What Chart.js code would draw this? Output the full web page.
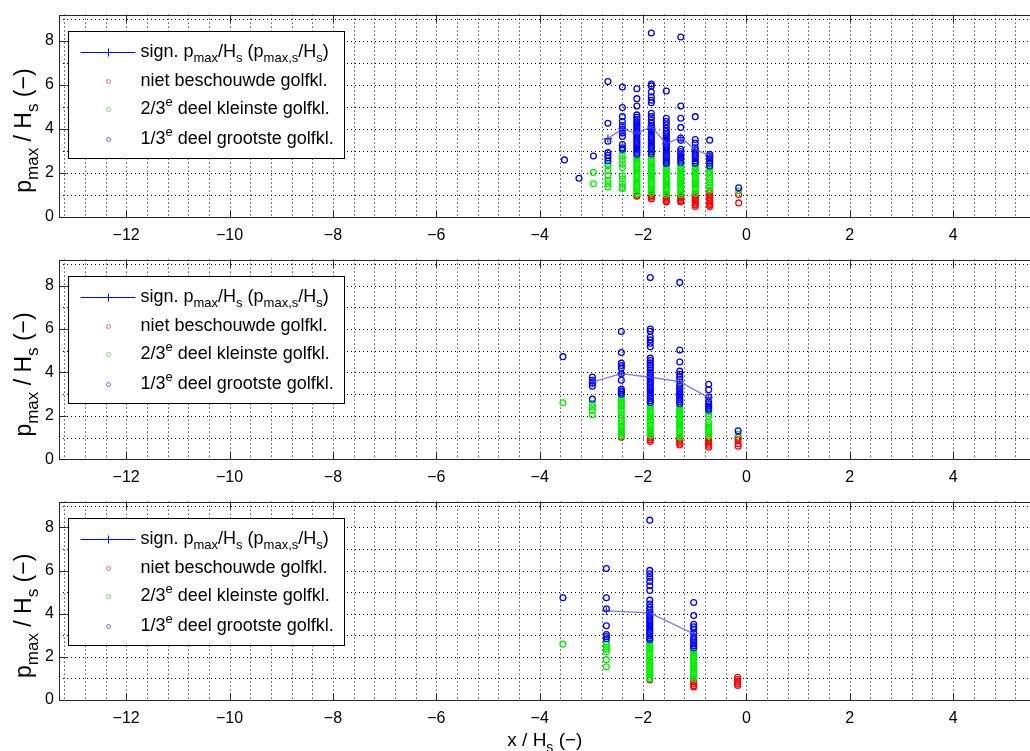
<!DOCTYPE html>
<html>
<head>
<meta charset="utf-8">
<title>p_max / H_s</title>
<script src="https://cdn.jsdelivr.net/npm/chart.js@4.4.1/dist/chart.umd.min.js"></script>
<style>
  html, body { margin: 0; padding: 0; background: #fff; overflow: hidden; }
  #fig { position: relative; width: 1030px; height: 751px; overflow: hidden; }
  #fig canvas { position: absolute; left: 0; }
</style>
</head>
<body>
<div id="fig">
  <canvas id="panel1" width="1100" height="245" style="top:0px"></canvas>
  <canvas id="panel2" width="1100" height="242" style="top:245px"></canvas>
  <canvas id="panel3" width="1100" height="264" style="top:487px"></canvas>
</div>
<script>
// axis ranges and tick labels
const xMin = -13.3, xMax = 5.5, yMin = 0, yMax = 9.2;
const xTickVals = [-12, -10, -8, -6, -4, -2, 0, 2, 4];
const yTickVals = [0, 2, 4, 6, 8];

// top panel: narrow bins
const p1Cols = [-3.52, -3.24, -2.96, -2.68, -2.40, -2.12, -1.84, -1.55, -1.27, -0.99, -0.71, -0.15];
const p1Blue = [
  [2.58],
  [1.74],
  [2.76],
  [6.15, 4.25, 3.43, 2.91, 2.79, 2.68, 2.53],
  [5.90, 4.97, 4.55, 4.33, 4.15, 3.98, 3.80, 3.65, 3.28, 3.13, 3.06],
  [5.82, 5.37, 5.03, 4.63, 4.52, 4.42, 4.32, 4.22, 4.12, 4.02, 3.92, 3.82, 3.72, 3.62, 3.52, 3.42, 3.32, 3.22, 3.12, 3.02, 2.92, 2.82],
  [8.36, 6.04, 5.95, 5.67, 5.45, 5.30, 5.18, 4.70, 4.55, 4.40, 4.25, 4.15, 4.05, 3.95, 3.85, 3.75, 3.65, 3.55, 3.45, 3.35, 3.25, 3.15, 3.05, 2.95, 2.85],
  [5.72, 4.48, 4.33, 4.18, 4.02, 3.88, 3.78, 3.68, 3.58, 3.48, 3.38, 3.28, 3.18, 3.08, 2.98, 2.88, 2.78, 2.68, 2.58, 2.48, 2.42],
  [8.18, 5.03, 4.48, 4.06, 3.58, 3.47, 3.06, 2.96, 2.86, 2.76, 2.66, 2.56, 2.46],
  [4.55, 3.51, 3.35, 3.13, 3.03, 2.93, 2.83, 2.73, 2.63, 2.53, 2.43],
  [3.48, 2.83, 2.73, 2.63, 2.53, 2.43, 2.30],
  [1.31]
];
const p1Green = [
  [],
  [],
  [2.01, 1.49],
  [2.39, 2.31, 2.09, 1.86, 1.64, 1.49, 1.34],
  [2.98, 2.76, 2.61, 2.39, 2.23, 1.86, 1.71, 1.49, 1.34, 1.26],
  [2.72, 2.62, 2.52, 2.42, 2.32, 2.22, 2.12, 2.02, 1.92, 1.82, 1.72, 1.62, 1.52, 1.42, 1.32, 1.22, 1.12, 1.02],
  [2.75, 2.65, 2.55, 2.45, 2.35, 2.25, 2.15, 2.05, 1.95, 1.85, 1.75, 1.65, 1.55, 1.45, 1.35, 1.25, 1.15, 1.07],
  [2.38, 2.28, 2.18, 2.08, 1.98, 1.88, 1.78, 1.68, 1.58, 1.48, 1.38, 1.28, 1.18, 1.08, 1.00],
  [2.38, 2.28, 2.18, 2.08, 1.98, 1.88, 1.78, 1.68, 1.58, 1.48, 1.38, 1.28, 1.18, 1.08, 1.00],
  [2.38, 2.28, 2.18, 2.08, 1.98, 1.88, 1.78, 1.68, 1.58, 1.48, 1.38, 1.28, 1.18, 1.06],
  [2.22, 2.12, 2.00, 1.90, 1.78, 1.66, 1.55, 1.44, 1.32, 1.20],
  [1.16]
];
const p1Red = [
  [], [], [], [], [],
  [0.97, 0.92],
  [1.02, 0.95, 0.88, 0.80],
  [0.95, 0.87, 0.79, 0.71, 0.66],
  [0.95, 0.87, 0.79, 0.71, 0.66],
  [1.02, 0.94, 0.86, 0.78, 0.70, 0.62, 0.54, 0.46],
  [1.14, 1.05, 0.96, 0.87, 0.78, 0.69, 0.60, 0.52, 0.45],
  [1.00, 0.62]
];
const p1Sign = [null, null, null, 3.55, 4.00, 3.78, 4.10, 3.32, 3.60, 3.05, 2.78, null];

// middle panel: medium bins
const p2Cols = [-3.55, -2.98, -2.42, -1.86, -1.29, -0.73, -0.16];
const p2Blue = [
  [4.73],
  [3.79, 3.64, 3.50, 3.37, 2.77],
  [5.89, 4.92, 4.43, 4.32, 4.21, 3.94, 3.64, 3.24, 3.16, 3.08, 3.00],
  [8.37, 6.00, 5.90, 5.63, 5.50, 5.35, 5.18, 4.66, 4.55, 4.44, 4.33, 4.22, 4.11, 4.00, 3.90, 3.80, 3.70, 3.60, 3.50, 3.40, 3.30, 3.20, 3.10, 3.00, 2.90, 2.80, 2.70, 2.62],
  [8.15, 5.03, 4.48, 4.06, 3.92, 3.80, 3.70, 3.46, 3.36, 3.26, 3.16, 3.06, 2.96, 2.86, 2.76, 2.66, 2.56],
  [3.46, 3.20, 2.87, 2.65, 2.55, 2.45, 2.36, 2.28],
  [1.31]
];
const p2Green = [
  [2.60],
  [2.57, 2.42, 2.25, 2.05],
  [2.92, 2.82, 2.72, 2.62, 2.52, 2.42, 2.32, 2.20, 2.02, 1.90, 1.78, 1.66, 1.56, 1.46, 1.36, 1.26, 1.16, 1.08],
  [2.55, 2.45, 2.35, 2.25, 2.15, 2.05, 1.95, 1.85, 1.75, 1.65, 1.55, 1.45, 1.35, 1.25, 1.15, 1.10],
  [2.48, 2.38, 2.28, 2.18, 2.08, 1.98, 1.88, 1.78, 1.68, 1.58, 1.48, 1.38, 1.28, 1.18, 1.08, 1.02],
  [2.20, 2.10, 1.98, 1.68, 1.58, 1.48, 1.38, 1.28, 1.18, 1.08],
  [1.16]
];
const p2Red = [
  [], [],
  [1.02],
  [1.06, 0.98, 0.90, 0.82],
  [0.98, 0.90, 0.82, 0.74, 0.66],
  [1.01, 0.92, 0.83, 0.74, 0.65, 0.56],
  [1.02, 0.90, 0.72, 0.60]
];
const p2Sign = [null, 3.55, 3.95, 3.78, 3.58, 2.84, null];

// bottom panel: wide bins
const p3Cols = [-3.55, -2.71, -1.87, -1.02, -0.17];
const p3Blue = [
  [4.74],
  [6.10, 4.74, 4.23, 3.44, 3.04, 2.94, 2.84],
  [8.34, 6.01, 5.85, 5.68, 5.50, 5.30, 5.08, 4.63, 4.45, 4.30, 4.18, 4.08, 3.98, 3.88, 3.78, 3.68, 3.58, 3.48, 3.38, 3.28, 3.18, 3.08, 2.98, 2.88, 2.80],
  [4.52, 3.92, 3.51, 3.40, 3.29, 3.09, 2.91, 2.81, 2.71, 2.61, 2.51, 2.42],
  []
];
const p3Green = [
  [2.59],
  [2.69, 2.58, 2.46, 2.36, 2.24, 1.87, 1.54],
  [2.76, 2.66, 2.56, 2.46, 2.36, 2.26, 2.16, 2.06, 1.96, 1.86, 1.76, 1.66, 1.56, 1.46, 1.36, 1.26, 1.16, 1.06, 0.98],
  [2.38, 2.28, 2.18, 2.08, 1.98, 1.88, 1.78, 1.68, 1.58, 1.48, 1.38, 1.28, 1.18, 1.08, 1.00],
  []
];
const p3Red = [
  [], [],
  [0.93],
  [0.96, 0.86, 0.76, 0.66, 0.60],
  [1.05, 0.95, 0.85, 0.75, 0.67]
];
const p3Sign = [null, 4.13, 4.04, 3.07, null];

// rich text pieces: 0 = normal, 1 = subscript, 2 = superscript
const yTitle = [['p', 0], ['max', 1], [' / H', 0], ['s', 1], [' (\u2212)', 0]];
const xTitle = [['x / H', 0], ['s', 1], [' (\u2212)', 0]];
const legendRows = [
  [['sign. p', 0], ['max', 1], ['/H', 0], ['s', 1], [' (p', 0], ['max,s', 1], ['/H', 0], ['s', 1], [')', 0]],
  [['niet beschouwde golfkl.', 0]],
  [['2/3', 0], ['e', 2], [' deel kleinste golfkl.', 0]],
  [['1/3', 0], ['e', 2], [' deel grootste golfkl.', 0]]
];

const FONT = "'Liberation Sans', Arial, Helvetica, sans-serif";
Chart.defaults.font.family = FONT;
Chart.defaults.color = '#000';

const BLUE = 'rgb(0,0,255)';
const SIGN_LINE = 'rgba(90,90,255,0.8)';
const SIGN_MARK = 'rgb(40,40,255)';

function richText(ctx, parts, x, y, size, measureOnly) {
  let cx = x;
  for (const [txt, kind] of parts) {
    const s = kind ? Math.round(size * 0.72) : size;
    ctx.font = s + 'px ' + FONT;
    const dy = kind === 1 ? size * 0.32 : kind === 2 ? -size * 0.42 : 0;
    if (!measureOnly) ctx.fillText(txt, cx, y + dy);
    cx += ctx.measureText(txt).width;
  }
  return cx - x;
}

function seg(ctx, x1, y1, x2, y2) {
  ctx.beginPath();
  ctx.moveTo(x1, y1);
  ctx.lineTo(x2, y2);
  ctx.stroke();
}

// grid, axes box, legend and axis titles
const frame = {
  id: 'frame',
  beforeDatasetsDraw(chart) {
    const { ctx, chartArea: a, scales: { x, y } } = chart;
    ctx.save();
    ctx.strokeStyle = '#000';
    ctx.lineWidth = 1;
    ctx.setLineDash([1, 3]);
    for (let k = -33; k <= 14; k++) {
      const px = Math.round(x.getPixelForValue(k * 0.4)) + 0.5;
      if (px > a.left + 1 && px < a.right - 1) seg(ctx, px, a.top, px, a.bottom);
    }
    for (let v = 1; v <= 9; v++) {
      const py = Math.round(y.getPixelForValue(v)) + 0.5;
      seg(ctx, a.left, py, a.right, py);
    }
    ctx.restore();
  },
  afterDraw(chart, args, opts) {
    const { ctx, chartArea: a, scales: { x, y } } = chart;
    ctx.save();
    ctx.setLineDash([]);
    ctx.lineWidth = 1;
    ctx.strokeStyle = '#262626';
    const L = Math.round(a.left) + 0.5, T = Math.round(a.top) + 0.5;
    const B = Math.round(a.bottom) + 0.5, R = Math.round(a.right) + 0.5;
    ctx.strokeRect(L, T, R - L, B - T);
    ctx.beginPath();
    for (const v of xTickVals) {
      const px = Math.round(x.getPixelForValue(v)) + 0.5;
      ctx.moveTo(px, B); ctx.lineTo(px, B - 7);
      ctx.moveTo(px, T); ctx.lineTo(px, T + 7);
    }
    for (const v of yTickVals) {
      const py = Math.round(y.getPixelForValue(v)) + 0.5;
      ctx.moveTo(L, py); ctx.lineTo(L + 7, py);
    }
    ctx.stroke();

    // legend
    const bx = L + 9, by = T + 16, bw = 276, bh = 127;
    ctx.fillStyle = '#fff';
    ctx.fillRect(bx, by, bw, bh);
    ctx.strokeStyle = '#000';
    ctx.strokeRect(bx, by, bw, bh);
    const rowY = [20, 49, 77, 107].map(v => Math.round(by + v) + 0.5);
    const mx = Math.round(bx + 39) + 0.5;
    ctx.strokeStyle = BLUE;
    seg(ctx, bx + 12, rowY[0], bx + 67, rowY[0]);
    seg(ctx, mx, rowY[0] - 4, mx, rowY[0] + 4);
    const mc = ['rgba(255,0,0,0.55)', 'rgba(0,220,0,0.6)', 'rgba(0,0,255,0.55)'];
    for (let i = 0; i < 3; i++) {
      ctx.strokeStyle = mc[i];
      ctx.beginPath();
      ctx.arc(mx, rowY[i + 1], 2, 0, Math.PI * 2);
      ctx.stroke();
    }
    ctx.fillStyle = '#000';
    ctx.textBaseline = 'middle';
    ctx.textAlign = 'left';
    legendRows.forEach((row, i) => richText(ctx, row, bx + 72, rowY[i], 18));

    // y title, rotated
    ctx.textBaseline = 'alphabetic';
    ctx.save();
    ctx.translate(31, (a.top + a.bottom) / 2 + 15);
    ctx.rotate(-Math.PI / 2);
    const w = richText(ctx, yTitle, 0, 0, 23, true);
    richText(ctx, yTitle, -w / 2, 0, 23);
    ctx.restore();

    if (opts.xTitle) {
      const xc = (a.left + a.right) / 2;
      const wx = richText(ctx, xTitle, 0, 0, 19, true);
      richText(ctx, xTitle, xc - wx / 2, a.bottom + 46, 19);
    }
    ctx.restore();
  }
};

function markers(color) {
  return {
    pointStyle: 'circle', pointRadius: 2.9, pointBorderWidth: 1.3,
    pointBorderColor: color, pointBackgroundColor: 'rgba(0,0,0,0)',
    borderColor: color, backgroundColor: 'rgba(0,0,0,0)', showLine: false
  };
}

function makePanel(id, cols, red, green, blue, sign, padTop, axisH, withXTitle) {
  const pts = vals => cols.flatMap((x, i) => vals[i].map(y => ({ x, y })));
  const line = cols.map((x, i) => ({ x, y: sign[i] })).filter(p => p.y !== null);
  return new Chart(document.getElementById(id), {
    type: 'scatter',
    data: {
      datasets: [
        {
          data: line, showLine: true, borderColor: SIGN_LINE, borderWidth: 1.3,
          pointStyle: 'cross', pointRadius: 4, pointBorderWidth: 1.2,
          pointBorderColor: SIGN_MARK, pointBackgroundColor: SIGN_MARK,
          backgroundColor: 'rgba(0,0,0,0)'
        },
        Object.assign({ data: pts(blue) }, markers(BLUE)),
        Object.assign({ data: pts(green) }, markers('rgb(0,240,0)')),
        Object.assign({ data: pts(red) }, markers('rgb(255,0,0)'))
      ]
    },
    options: {
      responsive: false,
      animation: false,
      devicePixelRatio: 1,
      layout: { padding: { top: padTop, left: 0, right: 69.3, bottom: 0 } },
      scales: {
        x: {
          type: 'linear', min: xMin, max: xMax,
          grid: { display: false, drawTicks: false },
          border: { display: false },
          afterBuildTicks: s => { s.ticks = xTickVals.map(v => ({ value: v })); },
          afterFit: s => { s.height = axisH; },
          ticks: {
            padding: 9, autoSkip: false, maxRotation: 0,
            font: { size: 16 }, color: '#000',
            callback: v => String(v).replace('-', '\u2212')
          }
        },
        y: {
          type: 'linear', min: yMin, max: yMax,
          grid: { display: false, drawTicks: false },
          border: { display: false },
          afterBuildTicks: s => { s.ticks = yTickVals.map(v => ({ value: v })); },
          afterFit: s => { s.width = 59; },
          ticks: { padding: 5, font: { size: 16 }, color: '#000' }
        }
      },
      plugins: {
        legend: { display: false },
        tooltip: { enabled: false },
        frame: { xTitle: withXTitle }
      }
    },
    plugins: [frame]
  });
}

makePanel('panel1', p1Cols, p1Red, p1Green, p1Blue, p1Sign, 12, 28.5, false);
makePanel('panel2', p2Cols, p2Red, p2Green, p2Blue, p2Sign, 9, 27.7, false);
makePanel('panel3', p3Cols, p3Red, p3Green, p3Blue, p3Sign, 8, 51, true);
</script>
</body>
</html>
